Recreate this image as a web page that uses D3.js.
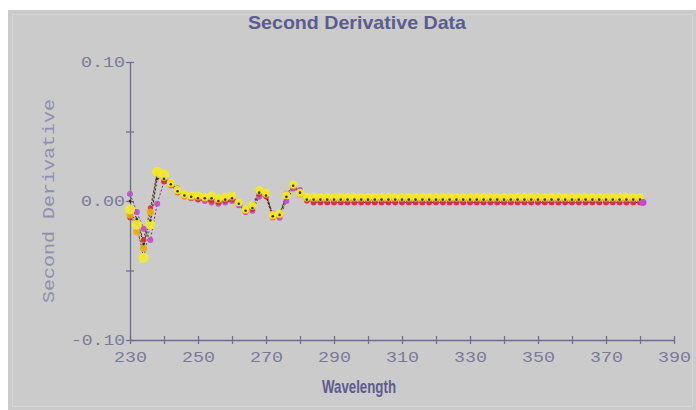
<!DOCTYPE html>
<html>
<head>
<meta charset="utf-8">
<script src="https://cdn.jsdelivr.net/npm/d3@7"></script>
<style>
  body { margin: 0; background: #fff; }
  svg { display: block; }
</style>
</head>
<body>
<svg width="696" height="410"></svg>
<script>
// Wavelength grid (nm)
const wavelengths = [230, 232, 234, 236, 238, 240, 242, 244, 246, 248,
  250, 252, 254, 256, 258, 260, 262, 264, 266, 268,
  270, 272, 274, 276, 278, 280, 282, 284, 286, 288,
  290, 292, 294, 296, 298, 300, 302, 304, 306, 308,
  310, 312, 314, 316, 318, 320, 322, 324, 326, 328,
  330, 332, 334, 336, 338, 340, 342, 344, 346, 348,
  350, 352, 354, 356, 358, 360, 362, 364, 366, 368,
  370, 372, 374, 376, 378, 380];

// Second derivative values, one array per sample
const yellowVals = [-0.006, -0.017, -0.041, -0.017, 0.021, 0.019, 0.013, 0.008, 0.005, 0.004,
  0.004, 0.003, 0.004, 0.002, 0.003, 0.004, -0.001, -0.006, -0.003, 0.008,
  0.006, -0.010, -0.009, 0.004, 0.012, 0.006, 0.003, 0.003, 0.003, 0.003,
  0.003, 0.003, 0.003, 0.003, 0.003, 0.003, 0.003, 0.003, 0.003, 0.003,
  0.003, 0.003, 0.003, 0.003, 0.003, 0.003, 0.003, 0.003, 0.003, 0.003,
  0.003, 0.003, 0.003, 0.003, 0.003, 0.003, 0.003, 0.003, 0.003, 0.003,
  0.003, 0.003, 0.003, 0.003, 0.003, 0.003, 0.003, 0.003, 0.003, 0.003,
  0.003, 0.003, 0.003, 0.003, 0.003, 0.003];

const orangeVals = [-0.010, -0.022, -0.034, -0.008, 0.022, 0.017, 0.012, 0.007, 0.004, 0.003,
  0.003, 0.002, 0.003, 0.001, 0.002, 0.003, -0.001, -0.007, -0.004, 0.007,
  0.005, -0.011, -0.010, 0.005, 0.011, 0.005, 0.002, 0.002, 0.002, 0.002,
  0.002, 0.002, 0.002, 0.002, 0.002, 0.002, 0.002, 0.002, 0.002, 0.002,
  0.002, 0.002, 0.002, 0.002, 0.002, 0.002, 0.002, 0.002, 0.002, 0.002,
  0.002, 0.002, 0.002, 0.002, 0.002, 0.002, 0.002, 0.002, 0.002, 0.002,
  0.002, 0.002, 0.002, 0.002, 0.002, 0.002, 0.002, 0.002, 0.002, 0.002,
  0.002, 0.002, 0.002, 0.002, 0.002, 0.002];

const redVals = [-0.012, -0.015, -0.028, -0.005, 0.020, 0.014, 0.011, 0.006, 0.003, 0.002,
  0.001, 0.001, 0.000, -0.001, 0.000, 0.001, -0.002, -0.008, -0.006, 0.005,
  0.003, -0.012, -0.011, 0.003, 0.010, 0.006, 0.000, -0.001, -0.001, -0.001,
  -0.001, -0.001, -0.001, -0.001, -0.001, -0.001, -0.001, -0.001, -0.001, -0.001,
  -0.001, -0.001, -0.001, -0.001, -0.001, -0.001, -0.001, -0.001, -0.001, -0.001,
  -0.001, -0.001, -0.001, -0.001, -0.001, -0.001, -0.001, -0.001, -0.001, -0.001,
  -0.001, -0.001, -0.001, -0.001, -0.001, -0.001, -0.001, -0.001, -0.001, -0.001,
  -0.001, -0.001, -0.001, -0.001, -0.001, -0.001];

const magentaVals = [0.005, -0.008, -0.020, -0.028, -0.002, 0.014, 0.013, 0.009, 0.005, 0.002,
  0.001, 0.000, -0.001, -0.002, -0.001, 0.000, -0.003, -0.008, -0.007, 0.003,
  0.004, -0.009, -0.012, 0.000, 0.009, 0.008, 0.001, -0.001, -0.001, -0.001,
  -0.001, -0.001, -0.001, -0.001, -0.001, -0.001, -0.001, -0.001, -0.001, -0.001,
  -0.001, -0.001, -0.001, -0.001, -0.001, -0.001, -0.001, -0.001, -0.001, -0.001,
  -0.001, -0.001, -0.001, -0.001, -0.001, -0.001, -0.001, -0.001, -0.001, -0.001,
  -0.001, -0.001, -0.001, -0.001, -0.001, -0.001, -0.001, -0.001, -0.001, -0.001,
  -0.001, -0.001, -0.001, -0.001, -0.001, -0.001];

const blackVals = [0.000, -0.013, -0.031, -0.014, 0.016, 0.016, 0.012, 0.007, 0.004, 0.003,
  0.002, 0.002, 0.002, 0.000, 0.001, 0.002, -0.002, -0.007, -0.005, 0.006,
  0.004, -0.011, -0.010, 0.003, 0.011, 0.006, 0.001, 0.001, 0.001, 0.001,
  0.001, 0.001, 0.001, 0.001, 0.001, 0.001, 0.001, 0.001, 0.001, 0.001,
  0.001, 0.001, 0.001, 0.001, 0.001, 0.001, 0.001, 0.001, 0.001, 0.001,
  0.001, 0.001, 0.001, 0.001, 0.001, 0.001, 0.001, 0.001, 0.001, 0.001,
  0.001, 0.001, 0.001, 0.001, 0.001, 0.001, 0.001, 0.001, 0.001, 0.001,
  0.001, 0.001, 0.001, 0.001, 0.001, 0.001];

const xTickValues = [230, 240, 250, 260, 270, 280, 290, 300, 310, 320, 330, 340, 350, 360, 370, 380, 390];
const xTickLabels = [230, 250, 270, 290, 310, 330, 350, 370, 390];
const yTickValues = [-0.10, -0.05, 0.00, 0.05, 0.10];
const yTickLabels = [-0.10, 0.00, 0.10];

const svg = d3.select("svg");
const width = +svg.attr("width");
const height = +svg.attr("height");

// grey panel with a white strip on top and left
svg.append("rect")
    .attr("x", 8).attr("y", 10)
    .attr("width", width - 8).attr("height", height - 10)
    .attr("fill", "#cbcbcb");
svg.append("rect")
    .attr("x", 12.5).attr("y", 14.5)
    .attr("width", width - 16).attr("height", height - 18)
    .attr("fill", "none")
    .attr("stroke", "#d6d6d6");

const x = d3.scaleLinear().domain([230, 390]).range([130, 674]);
const y = d3.scaleLinear().domain([-0.10, 0.10]).range([340, 62]);

const axisColor = "#6c6c8e";
const tickTextColor = "#7a7a94";

// x axis
const xAxis = svg.append("g")
    .attr("transform", `translate(0,${y(-0.10)})`)
    .call(d3.axisBottom(x).tickValues(xTickValues).tickSize(0).tickFormat(""));
xAxis.select(".domain").attr("stroke", axisColor).attr("stroke-width", 1.3);
xAxis.selectAll(".tick line").remove();
xAxis.selectAll(".tick").append("line")
    .attr("y1", -4).attr("y2", 4)
    .attr("stroke", axisColor).attr("stroke-width", 1.2);
xAxis.selectAll(".tick").filter(d => xTickLabels.includes(d))
  .append("text")
    .attr("y", 22)
    .attr("text-anchor", "middle")
    .attr("textLength", 33)
    .attr("lengthAdjust", "spacingAndGlyphs")
    .attr("fill", tickTextColor)
    .style("font-family", "'Liberation Mono', 'DejaVu Sans Mono', monospace")
    .style("font-size", "14px")
    .text(d => d3.format("d")(d));

// y axis
const yAxis = svg.append("g")
    .attr("transform", `translate(${x(230)},0)`)
    .call(d3.axisLeft(y).tickValues(yTickValues).tickSize(0).tickFormat(""));
yAxis.select(".domain").attr("stroke", axisColor).attr("stroke-width", 1.3);
yAxis.selectAll(".tick line").remove();
yAxis.selectAll(".tick").append("line")
    .attr("x1", -4).attr("x2", 4)
    .attr("stroke", axisColor).attr("stroke-width", 1.2);
yAxis.selectAll(".tick").filter(d => yTickLabels.some(v => Math.abs(v - d) < 1e-9))
  .append("text")
    .attr("x", -5)
    .attr("dy", "0.35em")
    .attr("text-anchor", "end")
    .attr("textLength", d => d < 0 ? 54 : 44)
    .attr("lengthAdjust", "spacingAndGlyphs")
    .attr("fill", tickTextColor)
    .style("font-family", "'Liberation Mono', 'DejaVu Sans Mono', monospace")
    .style("font-size", "14px")
    .text(d => d3.format(".2f")(d).replace("−", "-"));

// series: lines then markers
const series = [
  {name: "magenta", vals: magentaVals, fill: "#c24ad2", line: "#7a2a7a", r: 3},
  {name: "red", vals: redVals, fill: "#d83020", line: "#7a2020", r: 2.6},
  {name: "orange", vals: orangeVals, fill: "#f5a800", line: "#6a5010", r: 3.6},
  {name: "yellow", vals: yellowVals, fill: "#f4ec2a", line: "#6a6010", r: 3.9},
  {name: "black", vals: blackVals, fill: "#2a2020", line: "#2a2020", r: 1.3}
];

const line = d3.line()
    .x((d, i) => x(wavelengths[i]))
    .y(d => y(d));

const plot = svg.append("g");

series.forEach(s => {
  plot.append("path")
      .datum(s.vals)
      .attr("fill", "none")
      .attr("stroke", s.line)
      .attr("stroke-width", 1)
      .attr("stroke-dasharray", "2,2")
      .attr("d", line);
});

series.forEach(s => {
  plot.append("g").selectAll("circle")
    .data(s.vals)
    .enter().append("circle")
      .attr("cx", (d, i) => x(wavelengths[i]))
      .attr("cy", d => y(d))
      // early peaks drawn a little larger, as in the source
      .attr("r", (d, i) => (s.name === "yellow" && i < 6) ? 5 : s.r)
      .attr("fill", s.fill)
      .attr("fill-opacity", 0.9);
});

// end point marker
plot.append("circle")
    .attr("cx", x(wavelengths[wavelengths.length - 1]) + 3)
    .attr("cy", y(magentaVals[magentaVals.length - 1]))
    .attr("r", 3.5)
    .attr("fill", "#c24ad2");

// titles
svg.append("text")
    .attr("x", 357)
    .attr("y", 29)
    .attr("text-anchor", "middle")
    .attr("textLength", 218)
    .attr("lengthAdjust", "spacingAndGlyphs")
    .attr("fill", "#5c5c8e")
    .style("font-family", "'Liberation Sans Narrow', 'Liberation Sans', Arial, sans-serif")
    .style("font-weight", "bold")
    .style("font-size", "19px")
    .text("Second Derivative Data");

svg.append("text")
    .attr("x", 359)
    .attr("y", 393)
    .attr("text-anchor", "middle")
    .attr("textLength", 74)
    .attr("lengthAdjust", "spacingAndGlyphs")
    .attr("fill", "#5c5c8e")
    .style("font-family", "'Liberation Sans Narrow', 'Liberation Sans', Arial, sans-serif")
    .style("font-weight", "bold")
    .style("font-size", "19px")
    .text("Wavelength");

svg.append("text")
    .attr("transform", `translate(54,${y(0)}) rotate(-90)`)
    .attr("text-anchor", "middle")
    .attr("textLength", 204)
    .attr("lengthAdjust", "spacingAndGlyphs")
    .attr("fill", "#9090ac")
    .style("font-family", "'Liberation Mono', 'DejaVu Sans Mono', monospace")
    .style("font-size", "16px")
    .text("Second Derivative");
</script>
</body>
</html>
